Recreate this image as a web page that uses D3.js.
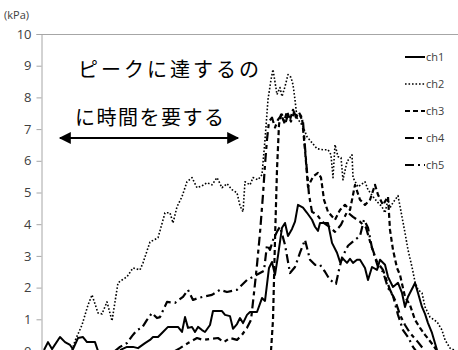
<!DOCTYPE html>
<html>
<head>
<meta charset="utf-8">
<script src="https://cdn.jsdelivr.net/npm/d3@7"></script>
<style>
  html, body { margin: 0; padding: 0; background: #fff; }
  svg { display: block; }
</style>
</head>
<body>
<svg id="chart" width="458" height="350"></svg>
<script>
// Pressure records (kPa) for five channels; each channel has its own sample times.
const yTicks = [0, 1, 2, 3, 4, 5, 6, 7, 8, 9, 10];
const seriesNames = ["ch1", "ch2", "ch3", "ch4", "ch5"];

const ch1T = [3, 7, 11, 19, 24, 29, 32, 37, 42, 46, 54, 57, null, 79, 86, 92, 97, 104, 109, 112, 117, 121, 127, 137, 141, 144, 147, 151, 154, 157, 161, 164, 169, 172, 181, 184, 189, 192, 196, 199, 202, 206, 209, 216, 221, 224, 228, 231, 234, 237, 241, 244, 247, 251, 254, 257, 262, 266, 271, 274, 277, 279, 287, 291, 296, 299, 302, 306, 309, 312, 316, 319, 324, 327, 331, 336, 339, 344, 347, 352, 357, 361, 364, 367, 372, 374, 377, 381, 384, 387, 391, 396];
const ch1V = [0.03, 0.28, 0.06, 0.44, 0.28, 0.19, 0.06, 0.41, 0.44, 0.28, 0.28, 0.0, null, 0.03, 0.13, 0.13, 0.09, 0.25, 0.35, 0.44, 0.44, 0.57, 0.76, 0.76, 0.60, 1.07, 0.73, 0.76, 0.60, 0.76, 0.66, 0.60, 0.82, 1.26, 1.26, 1.14, 1.10, 0.70, 0.85, 1.04, 0.88, 1.14, 1.23, 1.23, 1.67, 1.58, 2.62, 2.81, 2.40, 3.0, 3.89, 4.04, 3.63, 3.85, 4.08, 4.61, 4.52, 4.36, 4.14, 3.92, 3.79, 4.04, 4.04, 3.41, 3.10, 2.81, 2.91, 2.78, 2.91, 2.78, 2.88, 2.88, 2.62, 2.24, 2.65, 2.56, 2.88, 2.72, 2.34, 2.02, 2.15, 1.83, 1.39, 1.71, 2.02, 2.15, 1.83, 1.39, 1.17, 0.88, 0.57, 0.03];

const ch2T = [31, 34, 41, 47, 51, 57, 61, 66, 71, 77, 81, 86, 92, 99, 102, 109, 117, 124, 129, 132, 136, 141, 146, 151, 156, 161, 166, 171, 176, 181, 186, 191, 196, 199, 202, 204, 209, 212, 217, 221, 224, 227, 230, 232, 236, 239, 241, 244, 247, 250, 252, 254, 256, 262, 266, 271, 276, 282, 287, 290, 292, 294, 297, 300, 302, 306, 311, 312, 317, 324, 327, 332, 337, 341, 344, 347, 349, 352, 357, 361, 364, 367, 371, 374, 377, 381, 384, 389, 396, 401, 404, 409, 415];
const ch2V = [0.03, 0.32, 0.82, 1.45, 1.77, 1.20, 1.17, 1.55, 0.95, 2.15, 2.24, 2.34, 2.62, 2.56, 2.78, 3.44, 3.57, 4.36, 4.36, 4.04, 4.55, 4.87, 5.34, 5.47, 5.15, 5.21, 5.31, 5.24, 5.47, 5.15, 5.28, 5.09, 4.99, 4.58, 4.39, 5.34, 5.24, 5.47, 5.40, 5.56, 6.67, 7.93, 8.56, 8.88, 8.09, 8.31, 8.03, 8.34, 8.72, 8.63, 8.40, 7.93, 7.36, 7.08, 6.76, 6.57, 6.38, 6.35, 6.35, 6.19, 5.47, 6.51, 6.13, 6.10, 5.40, 5.97, 6.19, 5.47, 5.18, 5.34, 5.09, 4.87, 4.68, 4.55, 4.36, 4.77, 4.52, 4.68, 4.90, 4.23, 3.73, 3.19, 2.65, 2.18, 1.93, 1.83, 1.39, 1.07, 0.92, 0.66, 0.35, 0.09, 0.0];

const ch3T = [230, 232, 234, 236, 238, 240, 243, 246, 249, 252, 255, 258, 261, 264, 267, 272, 277, 280, 283, 287, 294, 299, 304, 309, 314, 319, 324, 329, 334, 337, 342, 347, 349, 352, 356, 359, 364, 369, 374, 379, 384, 392, 396];
const ch3V = [0.0, 0.98, 3.51, 5.72, 7.14, 7.46, 7.24, 7.55, 7.30, 7.61, 7.36, 7.52, 7.36, 6.35, 5.18, 5.50, 5.62, 5.47, 4.77, 4.39, 4.14, 4.45, 4.61, 4.45, 5.24, 4.77, 4.61, 4.77, 5.24, 4.93, 4.61, 4.87, 3.82, 3.19, 2.62, 2.40, 1.71, 1.45, 0.98, 0.73, 0.51, 0.19, 0.0];

const ch4T = [134, 139, 147, 156, 162, 169, 177, 183, 189, 196, 201, 206, 210, 213, 216, 219, 222, 224, 226, 228, 231, 234, 237, 241, 244, 247, 250, 253, 256, 259, 262, 265, 268, 271, 276, 281, 287, 294, 300, 306, 312, 319, 325, 330, 336, 342, 349, 354, 359, 364, 369, 377, 384];
const ch4V = [0.0, 0.09, 0.25, 0.41, 0.35, 0.38, 0.41, 0.28, 0.41, 0.35, 0.51, 0.73, 0.98, 1.83, 2.72, 3.73, 4.93, 5.88, 6.67, 7.24, 7.36, 7.05, 7.30, 7.46, 7.14, 7.46, 7.24, 7.52, 7.36, 7.43, 7.24, 6.03, 4.93, 4.39, 4.30, 4.08, 3.95, 3.76, 3.98, 4.39, 4.23, 4.08, 3.89, 3.35, 2.81, 2.56, 1.93, 1.61, 1.14, 0.82, 0.57, 0.28, 0.0];

const ch5T = [74, 79, 86, 91, 96, 101, 106, 111, 116, 119, 126, 134, 142, 147, 152, 157, 162, 171, 179, 186, 196, 206, 212, 219, 223, 226, 229, 232, 236, 239, 244, 249, 254, 259, 264, 269, 274, 279, 284, 289, 295, 298, 301, 307, 314, 319, 323, 327, 331, 337, 342, 347, 352, 357, 362, 367, 372, 375];
const ch5V = [0.0, 0.13, 0.25, 0.47, 0.66, 0.73, 0.98, 1.20, 1.04, 1.07, 1.55, 1.52, 1.71, 1.93, 1.61, 1.67, 1.71, 1.77, 1.93, 1.86, 1.93, 2.24, 2.34, 2.46, 2.53, 3.35, 3.19, 3.50, 3.76, 3.92, 3.35, 2.46, 2.65, 3.10, 3.51, 2.88, 2.72, 2.72, 2.50, 2.24, 2.12, 2.56, 2.94, 3.32, 3.51, 3.63, 4.14, 3.89, 3.25, 2.65, 2.50, 1.99, 1.74, 1.14, 0.66, 0.44, 0.13, 0.0];

const series = [
  { name: "ch1", t: ch1T, v: ch1V, dash: null,        width: 2.0 },
  { name: "ch2", t: ch2T, v: ch2V, dash: "1.6 1.9",   width: 1.6 },
  { name: "ch3", t: ch3T, v: ch3V, dash: "5 3",       width: 2.2 },
  { name: "ch4", t: ch4T, v: ch4V, dash: "9 4 4 4",   width: 2.2 },
  { name: "ch5", t: ch5T, v: ch5V, dash: "9 4 2 4",   width: 2.2 }
];

const annotationLines = ["ピークに達するの", "に時間を要する"];

const svg = d3.select("#chart");
const W = 458, H = 350;
const plot = { left: 41, top: 34, right: 461, bottom: 351 };

const x = d3.scaleLinear().domain([0, 420]).range([plot.left, plot.right]);
const y = d3.scaleLinear().domain([0, 10]).range([plot.bottom, plot.top]);

// plot frame: top border line
svg.append("line")
  .attr("x1", plot.left).attr("x2", W)
  .attr("y1", plot.top + 0.5).attr("y2", plot.top + 0.5)
  .attr("stroke", "#a6a6a6").attr("stroke-width", 1);

// y axis
const yAxis = d3.axisLeft(y).tickValues(yTicks).tickSize(5).tickPadding(5).tickFormat(d3.format("d"));
const gy = svg.append("g").attr("transform", `translate(${plot.left + 0.5},0)`).call(yAxis);
gy.select(".domain").attr("stroke", "#a6a6a6");
gy.selectAll(".tick line").attr("stroke", "#a6a6a6");
gy.selectAll(".tick text")
  .attr("fill", "#404040")
  .style("font-family", "'Open Sans', 'Noto Sans', sans-serif")
  .style("font-size", "13px");

svg.append("text")
  .attr("x", 4).attr("y", 19)
  .attr("fill", "#404040")
  .style("font-family", "'Open Sans', 'Noto Sans', sans-serif")
  .style("font-size", "11px")
  .text("(kPa)");

// data lines
svg.append("clipPath").attr("id", "plotclip")
  .append("rect").attr("x", plot.left).attr("y", 0).attr("width", W - plot.left).attr("height", H);

const line = d3.line()
  .defined(d => d[0] != null && d[1] != null)
  .x(d => x(d[0]))
  .y(d => y(d[1]));

const lines = svg.append("g").attr("clip-path", "url(#plotclip)");
series.forEach(s => {
  const pts = s.t.map((t, i) => [t, s.v[i]]);
  lines.append("path")
    .datum(pts)
    .attr("d", line)
    .attr("fill", "none")
    .attr("stroke", "#000")
    .attr("stroke-width", s.width)
    .attr("stroke-linejoin", "round")
    .attr("stroke-dasharray", s.dash);
});

// legend
const legend = svg.append("g");
const legendY = d3.scalePoint().domain(seriesNames).range([57, 165]);
series.forEach(s => {
  const ly = legendY(s.name);
  legend.append("line")
    .attr("x1", 405).attr("x2", 425)
    .attr("y1", ly).attr("y2", ly)
    .attr("stroke", "#000")
    .attr("stroke-width", s.width)
    .attr("stroke-dasharray", s.dash);
  legend.append("text")
    .attr("x", 426).attr("y", ly + 4)
    .attr("fill", "#404040")
    .style("font-family", "'Open Sans', 'Noto Sans', sans-serif")
    .style("font-size", "11px")
    .text(s.name);
});

// annotation text and double arrow
const note = svg.append("g")
  .style("font-family", "'Noto Sans CJK JP', sans-serif")
  .style("font-size", "20px")
  .attr("fill", "#000");
note.append("text").attr("x", 78).attr("y", 77).style("letter-spacing", "3px").text(annotationLines[0]);
note.append("text").attr("x", 75).attr("y", 125).style("letter-spacing", "1.5px").text(annotationLines[1]);

const defs = svg.append("defs");
defs.append("marker").attr("id", "ah")
  .attr("viewBox", "0 0 10 10").attr("refX", 9).attr("refY", 5)
  .attr("markerWidth", 7).attr("markerHeight", 6).attr("markerUnits", "strokeWidth")
  .attr("orient", "auto-start-reverse")
  .append("path").attr("d", "M0,0 L10,5 L0,10 Z").attr("fill", "#000");

svg.append("line")
  .attr("x1", 60).attr("x2", 238)
  .attr("y1", 138).attr("y2", 138)
  .attr("stroke", "#000").attr("stroke-width", 2)
  .attr("marker-start", "url(#ah)")
  .attr("marker-end", "url(#ah)");
</script>
</body>
</html>
